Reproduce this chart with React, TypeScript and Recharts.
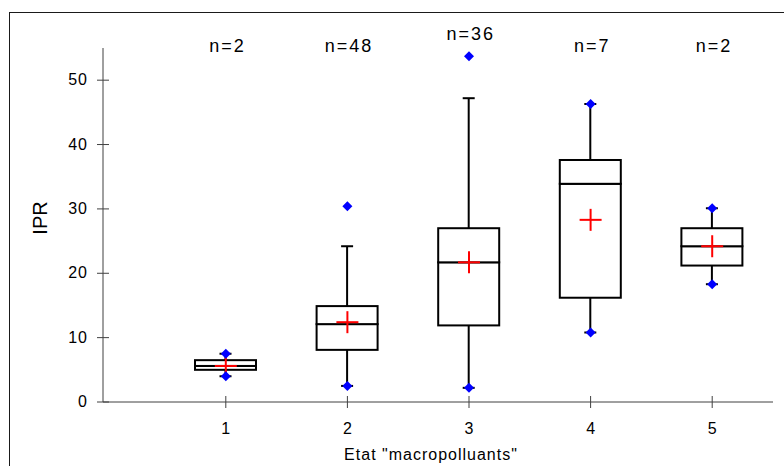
import React from "react";
import { ComposedChart, Bar, Scatter, XAxis, YAxis, LabelList } from "recharts";

// IPR per "macropolluants" state
const categories = ["1", "2", "3", "4", "5"];
const counts = [2, 48, 36, 7, 2];
const whiskerLow = [4.0, 2.5, 2.2, 10.8, 18.3];
const q1 = [5.0, 8.1, 11.9, 16.2, 21.2];
const median = [5.6, 12.1, 21.7, 33.9, 24.2];
const q3 = [6.5, 14.9, 27.0, 37.6, 27.0];
const whiskerHigh = [7.5, 24.2, 47.2, 46.3, 30.1];
const means = [5.6, 12.4, 21.7, 28.3, 24.2];
const minValues = [4.0, 2.5, 2.2, 10.8, 18.3];
const maxValues = [7.5, 30.4, 53.7, 46.3, 30.1];
const yTicks = [0, 10, 20, 30, 40, 50];

const rows = categories.map((cat, i) => ({
  cat,
  n: counts[i],
  base: whiskerLow[i],
  lowWhisker: q1[i] - whiskerLow[i],
  lowBox: median[i] - q1[i],
  highBox: q3[i] - median[i],
  highWhisker: whiskerHigh[i] - q3[i],
  mean: means[i],
  min: minValues[i],
  max: maxValues[i],
}));

const FONT = "'Liberation Sans', Arial, sans-serif";
const AXIS = "#404040";

const LowWhisker = (p: any) => {
  const cx = p.x + p.width / 2;
  const yb = p.y + p.height;
  return (
    <g>
      <line x1={cx} x2={cx} y1={p.y} y2={yb} stroke="#000" strokeWidth={2} />
      <line x1={cx - 6} x2={cx + 6} y1={yb} y2={yb} stroke="#000" strokeWidth={2} />
    </g>
  );
};

const HighWhisker = (p: any) => {
  const cx = p.x + p.width / 2;
  return (
    <g>
      <line x1={cx} x2={cx} y1={p.y} y2={p.y + p.height} stroke="#000" strokeWidth={2} />
      <line x1={cx - 6} x2={cx + 6} y1={p.y} y2={p.y} stroke="#000" strokeWidth={2} />
    </g>
  );
};

const BoxPart = (p: any) => (
  <rect x={p.x} y={p.y} width={p.width} height={p.height} fill="#fff" stroke="#000" strokeWidth={2} />
);

const MeanCross = (p: any) => (
  <g>
    <line x1={p.cx - 11} x2={p.cx + 11} y1={p.cy} y2={p.cy} stroke="#ff0000" strokeWidth={2} />
    <line x1={p.cx} x2={p.cx} y1={p.cy - 11} y2={p.cy + 11} stroke="#ff0000" strokeWidth={2} />
  </g>
);

const Diamond = (p: any) => (
  <polygon
    points={`${p.cx},${p.cy - 5} ${p.cx + 5},${p.cy} ${p.cx},${p.cy + 5} ${p.cx - 5},${p.cy}`}
    fill="#0000ff"
  />
);

const YTick = (p: any) => (
  <g>
    <line x1={p.x + 10} x2={p.x + 22} y1={p.y} y2={p.y} stroke={AXIS} />
    <text x={p.x + 1} y={p.y + 5} textAnchor="end" fontSize={16} letterSpacing={1} fill="#000" fontFamily={FONT}>
      {p.payload.value}
    </text>
  </g>
);

const XTick = (p: any) => (
  <g>
    <line x1={p.x} x2={p.x} y1={p.y - 26} y2={p.y - 14} stroke={AXIS} />
    <text x={p.x} y={p.y + 12} textAnchor="middle" fontSize={16} fill="#000" fontFamily={FONT}>
      {p.payload.value}
    </text>
  </g>
);

const CountLabel = (p: any) => {
  const vb = p.viewBox || p;
  const cx = vb.x + vb.width / 2;
  // the n=36 label sits higher to clear the outlier
  const y = p.index === 2 ? 40 : 52;
  return (
    <text x={cx + 2} y={y} textAnchor="middle" fontSize={18} letterSpacing={2} fill="#000" fontFamily={FONT}>
      {`n=${p.value}`}
    </text>
  );
};

export default function App() {
  return (
    <div style={{ position: "absolute", left: 0, top: 0, width: 784, height: 466, background: "#fff" }}>
      <div
        style={{
          position: "absolute",
          left: 9,
          top: 12,
          width: 775,
          height: 454,
          borderTop: "1px solid #1a1a1a",
          borderLeft: "1px solid #1a1a1a",
          boxSizing: "border-box",
        }}
      />
      <div style={{ position: "absolute", left: 0, top: 0 }}>
        <ComposedChart width={784} height={466} data={rows} margin={{ top: 48, right: 11, bottom: 24, left: 43 }}>
          <XAxis
            dataKey="cat"
            type="category"
            padding={{ left: 62, right: 0 }}
            stroke={AXIS}
            tickLine={false}
            tickSize={6}
            tickMargin={14}
            height={40}
            tick={XTick}
            interval={0}
            label={(p: any) => {
              const vb = p.viewBox;
              return (
                <text
                  x={vb.x + vb.width / 2 - 7}
                  y={460}
                  textAnchor="middle"
                  fontSize={16}
                  letterSpacing={1}
                  fill="#000"
                  fontFamily={FONT}
                >
                  Etat "macropolluants"
                </text>
              );
            }}
          />
          <YAxis
            type="number"
            domain={[0, 55]}
            ticks={yTicks}
            stroke={AXIS}
            tickLine={false}
            tickSize={6}
            tickMargin={10}
            width={60}
            tick={YTick}
            interval={0}
            label={(p: any) => {
              const vb = p.viewBox;
              const y = vb.y + vb.height / 2 - 7;
              return (
                <text
                  x={47}
                  y={y}
                  transform={`rotate(-90, 47, ${y})`}
                  textAnchor="middle"
                  fontSize={20}
                  fill="#000"
                  fontFamily={FONT}
                >
                  IPR
                </text>
              );
            }}
          />
          <Bar dataKey="base" stackId="box" barSize={61} fill="none" isAnimationActive={false} />
          <Bar dataKey="lowWhisker" stackId="box" barSize={61} shape={LowWhisker} isAnimationActive={false} />
          <Bar dataKey="lowBox" stackId="box" barSize={61} shape={BoxPart} isAnimationActive={false} />
          <Bar dataKey="highBox" stackId="box" barSize={61} shape={BoxPart} isAnimationActive={false} />
          <Bar dataKey="highWhisker" stackId="box" barSize={61} shape={HighWhisker} isAnimationActive={false}>
            <LabelList dataKey="n" content={CountLabel} />
          </Bar>
          <Scatter dataKey="mean" shape={MeanCross} isAnimationActive={false} />
          <Scatter dataKey="min" shape={Diamond} isAnimationActive={false} />
          <Scatter dataKey="max" shape={Diamond} isAnimationActive={false} />
        </ComposedChart>
      </div>
    </div>
  );
}
